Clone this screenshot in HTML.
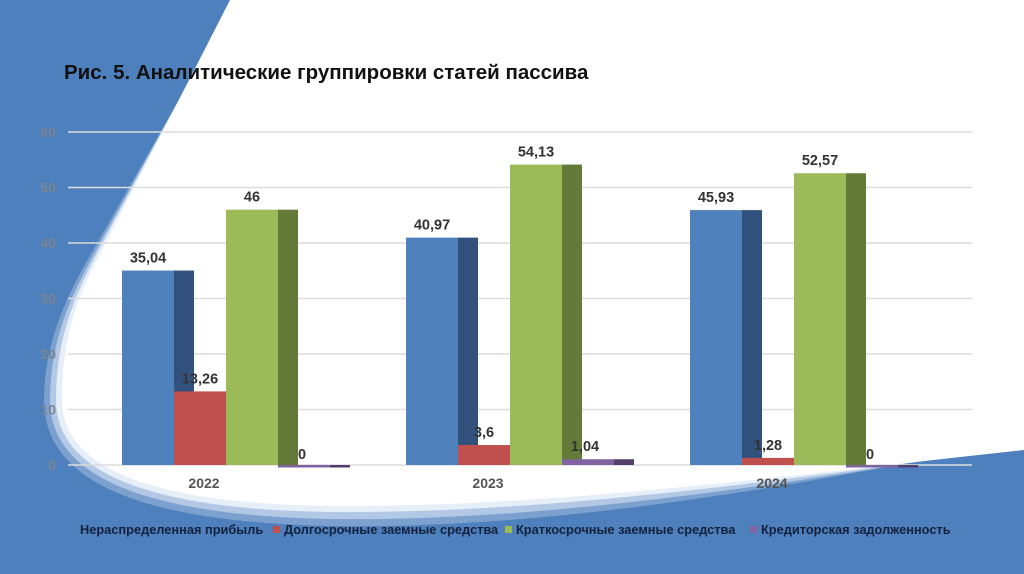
<!DOCTYPE html>
<html><head><meta charset="utf-8"><style>
html,body{margin:0;padding:0;width:1024px;height:574px;overflow:hidden;background:#4e80bd;font-family:"Liberation Sans",sans-serif}
svg{display:block}
</style></head><body>
<svg width="1024" height="574">
  <rect width="1024" height="574" fill="#4e80bd"/>
  <g>
    <path d="M236,0 L1024,0 L1024,440 C 800,486 550,530 330,526 C 160,522 44,490 44,400 C 44,340 70,290 92,252 L236,0Z" fill="#a9c1e0" opacity="0.5"/>
    <path d="M234,0 L1024,0 L1024,444 C 800,482 550,522 330,519 C 170,516 50,486 50,400 C 50,340 72,294 93,256 L234,0Z" fill="#c9d9ee" opacity="0.7"/>
    <path d="M232,0 L1024,0 L1024,447 C 800,478 550,514 330,512 C 175,510 56,482 56,400 C 56,340 74,298 94,259 L232,0Z" fill="#e6eef8"/>
    <path d="M230,0 L1024,0 L1024,450 C 800,474 550,508 330,506 C 180,504 62,478 62,400 C 62,340 76,300 96,262 L230,0Z" fill="#ffffff"/>
  </g>
  <text x="64" y="79" font-size="20.5" font-weight="bold" fill="#111">Рис. 5. Аналитические группировки статей пассива</text>
  <g id="grid"></g>
  <g id="bars"></g>
  <g id="legend"></g>
</svg>
<script>
const categories = ["2022","2023","2024"];
const seriesNames = ["Нераспределенная прибыль","Долгосрочные заемные средства","Краткосрочные заемные средства","Кредиторская задолженность"];
const retained = [35.04,40.97,45.93];
const longTerm = [13.26,3.6,1.28];
const shortTerm = [46,54.13,52.57];
const payables = [0,1.04,0];
const valueLabels = [["35,04","40,97","45,93"],["13,26","3,6","1,28"],["46","54,13","52,57"],["0","1,04","0"]];
const yTicks = [0,10,20,30,40,50,60];

const NS="http://www.w3.org/2000/svg";
const y0=465, yTop=132, yMax=60;
const y=v=>y0-(v/yMax)*(y0-yTop);
const groupX=i=>122+i*284;
const barW=52, sideW=20;
const fronts=["#4f81bd","#c0504d","#9bbb59","#8064a2"];
const sides=["#32527d","#7d3230","#637a38","#523f6b"];
function el(tag,attrs,parent){const e=document.createElementNS(NS,tag);for(const k in attrs)e.setAttribute(k,attrs[k]);parent.appendChild(e);return e;}
const grid=document.getElementById('grid');
yTicks.forEach(t=>{
  const l=el('line',{x1:68,x2:972,y1:y(t),y2:y(t),stroke:"#dcdcdc","stroke-width":1.5},grid);
  
  
  const tx=el('text',{x:56,y:y(t)+5,"text-anchor":"end","font-size":14,"font-weight":"bold",fill:"#7a8594"},grid);
  tx.textContent=t;
  
  
});
const bars=document.getElementById('bars');
const series=[retained,longTerm,shortTerm,payables];
categories.forEach((c,i)=>{
  series.forEach((s,k)=>{
    const x=groupX(i)+k*barW, v=s[i], top=y(v), h=Math.max(y0-top,0);
    const sd=el('rect',{x:x+barW,y:top,width:sideW,height:Math.max(h,2.5),fill:sides[k]},bars);
    
    
    const fr=el('rect',{x:x,y:top,width:barW,height:Math.max(h,2.5),fill:fronts[k]},bars);
    
    
  });
  series.forEach((s,k)=>{
    const x=groupX(i)+k*barW, v=s[i];
    const lbl=el('text',{x:x+barW/2+(k==3?-3:0),y:y(v)-8,"text-anchor":"middle","font-size":14.5,"font-weight":"bold",fill:"#333"},bars);
    if(k==3&&v==0){lbl.setAttribute('x',x+24);lbl.setAttribute('y',y0-6);}
    lbl.textContent=valueLabels[k][i];
    
    
  });
  const cl=el('text',{x:groupX(i)+82,y:488,"text-anchor":"middle","font-size":14,"font-weight":"bold",fill:"#555"},bars);
  cl.textContent=c;
  
  
});
const legend=document.getElementById('legend');
const lx=[80,284,516,761];
seriesNames.forEach((n,k)=>{
  if(k>0){const m=el('rect',{x:lx[k]-11,y:526,width:7,height:7,fill:fronts[k]},legend);
    
    }
  const t=el('text',{x:lx[k],y:534,"font-size":12.8,"font-weight":"bold",fill:"#14213d"},legend);
  t.textContent=n;
  
  
});
</script>
</body></html>
